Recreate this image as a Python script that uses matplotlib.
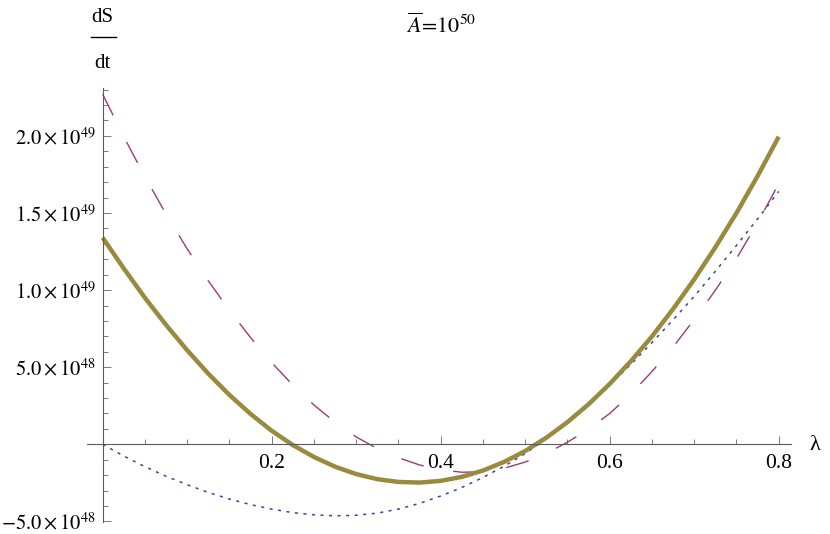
import numpy as np
import matplotlib
matplotlib.use('Agg')
import matplotlib.pyplot as plt
from matplotlib.ticker import FixedLocator, FixedFormatter, MultipleLocator
from matplotlib.lines import Line2D

plt.rcParams['font.family'] = ['Liberation Serif', 'DejaVu Serif']
plt.rcParams['mathtext.fontset'] = 'stix'

# lambda grid and curve values (units of 1e48)
lam = [0.0, 0.025, 0.05, 0.075, 0.10, 0.125, 0.15, 0.175, 0.20, 0.225, 0.25,
       0.275, 0.30, 0.325, 0.35, 0.375, 0.40, 0.425, 0.45, 0.475, 0.50,
       0.525, 0.55, 0.575, 0.60, 0.625, 0.65, 0.675, 0.70, 0.725, 0.75,
       0.775, 0.80]
blue_dotted = [0.0, -0.76, -1.45, -2.07, -2.62, -3.12, -3.55, -3.91, -4.2,
               -4.43, -4.57, -4.64, -4.6, -4.46, -4.2, -3.83, -3.35, -2.8,
               -2.15, -1.42, -0.6, 0.35, 1.4, 2.57, 3.85, 5.18, 6.6, 8.07,
               9.6, 11.22, 12.9, 14.62, 16.4]
purple_dashed = [22.7, 19.94, 17.35, 14.93, 12.67, 10.6, 8.69, 6.92, 5.3,
                 3.84, 2.55, 1.43, 0.48, -0.28, -0.87, -1.34, -1.65, -1.81,
                 -1.78, -1.55, -1.15, -0.59, 0.14, 0.98, 2.0, 3.26, 4.72,
                 6.31, 8.1, 9.99, 12.05, 14.37, 16.9]
gold_solid = [13.4, 11.4, 9.5, 7.74, 6.1, 4.58, 3.2, 1.97, 0.88, -0.05,
              -0.82, -1.45, -1.93, -2.26, -2.44, -2.48, -2.37, -2.11, -1.7,
              -1.14, -0.43, 0.43, 1.44, 2.6, 3.92, 5.39, 7.0, 8.78, 10.7,
              12.78, 15.0, 17.4, 19.95]
unit = 1e48

y_major = [-5e48, 5e48, 1e49, 1.5e49, 2e49]
y_labels = [r'$-5.0\times10^{48}$', r'$5.0\times10^{48}$', r'$1.0\times10^{49}$',
            r'$1.5\times10^{49}$', r'$2.0\times10^{49}$']
x_major = [0.2, 0.4, 0.6, 0.8]
x_labels = ['0.2', '0.4', '0.6', '0.8']

fig = plt.figure(figsize=(8.3, 5.34), dpi=100)
ax = fig.add_axes([0.1054, 0.0221, 0.8481, 0.8129])

x = np.array(lam)
ax.plot(x, np.array(blue_dotted) * unit, color='#4040a8', lw=1.1,
        linestyle=(0, (2.0, 3.6)))
ax.plot(x, np.array(purple_dashed) * unit, color='#993d71', lw=1.0,
        linestyle=(0, (16.9, 21.6)))
ax.plot(x, np.array(gold_solid) * unit, color='#998a3d', lw=3.2,
        solid_capstyle='butt', solid_joinstyle='round')

ax.set_xlim(-0.018, 0.815)
ax.set_ylim(-5.05e48, 2.31e49)

for s in ['top', 'right']:
    ax.spines[s].set_visible(False)
ax.spines['left'].set_position(('data', 0))
ax.spines['bottom'].set_position(('data', 0))
for s in ['left', 'bottom']:
    ax.spines[s].set_color('#5a5a5a')
    ax.spines[s].set_linewidth(0.8)

ax.xaxis.set_major_locator(FixedLocator(x_major))
ax.xaxis.set_major_formatter(FixedFormatter(x_labels))
ax.xaxis.set_minor_locator(MultipleLocator(0.05))
ax.yaxis.set_major_locator(FixedLocator(y_major))
ax.yaxis.set_major_formatter(FixedFormatter(y_labels))
ax.yaxis.set_minor_locator(MultipleLocator(1e48))

ax.tick_params(which='both', direction='in', color='#7a7a7a', width=0.7,
               labelcolor='black')
ax.tick_params(which='major', length=6)
ax.tick_params(which='minor', length=3.5)
ax.tick_params(axis='x', which='major', pad=7, labelsize=15.5)
ax.tick_params(axis='y', which='major', pad=5, labelsize=14.8)

# axis labels
fig.text(815 / 830, 1 - 446 / 534, 'λ', ha='center', va='center', fontsize=16)
fig.text(102 / 830, 1 - 22 / 534, 'dS', ha='center', va='baseline', fontsize=15)
fig.text(102 / 830, 1 - 68 / 534, 'dt', ha='center', va='baseline', fontsize=15)
fig.add_artist(Line2D([91 / 830, 116 / 830], [1 - 37.3 / 534, 1 - 37.3 / 534],
                      color='black', lw=1.0, transform=fig.transFigure))

# title
fig.text(441 / 830, 1 - 33 / 534, r'$\overline{A}\!=\!10^{50}$',
         ha='center', va='baseline', fontsize=15.8)

fig.savefig('out.png', dpi=100)
